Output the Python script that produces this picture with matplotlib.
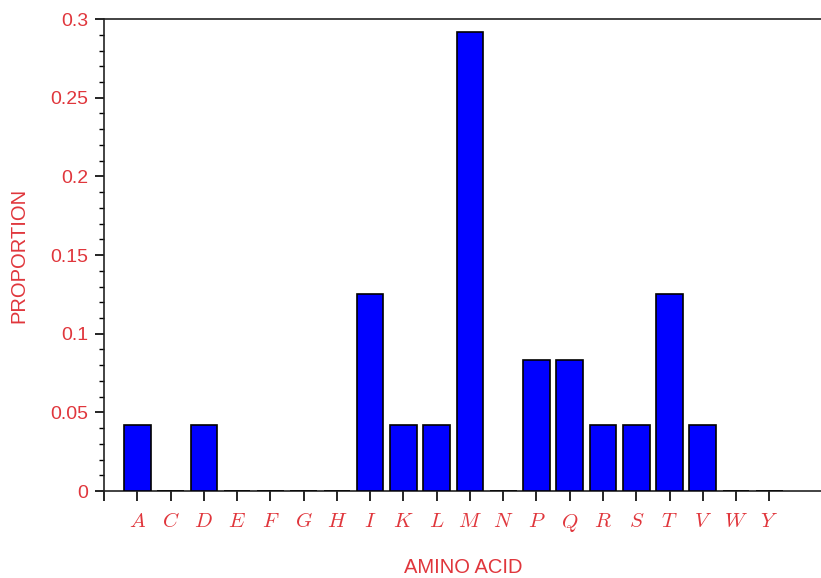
import numpy as np
import matplotlib
matplotlib.use("Agg")
import matplotlib.pyplot as plt
from matplotlib.ticker import MultipleLocator, FuncFormatter

amino_acids = ["A", "C", "D", "E", "F", "G", "H", "I", "K", "L",
               "M", "N", "P", "Q", "R", "S", "T", "V", "W", "Y"]
proportion = [0.0417, 0, 0.0417, 0, 0, 0, 0, 0.125, 0.0417, 0.0417,
              0.2917, 0, 0.0833, 0.0833, 0.0417, 0.0417, 0.125, 0.0417, 0, 0]

red = "#e0363c"
plt.rcParams["mathtext.fontset"] = "cm"
plt.rcParams["font.family"] = ["Liberation Sans", "DejaVu Sans"]

fig = plt.figure(figsize=(8.21, 5.78), dpi=100)
ax = fig.add_axes([0.1267, 0.1505, 0.8833, 0.8165])

x = np.arange(1, len(amino_acids) + 1)
ax.bar(x, proportion, width=0.8, color="#0000ff", edgecolor="black", linewidth=1.2, zorder=3)

ax.set_xlim(0, 21.8)
ax.set_ylim(0, 0.3)
ax.set_xticks(np.arange(0, len(amino_acids) + 1))
ax.set_xticklabels([""] + ["$%s$" % a for a in amino_acids], fontsize=15, color=red)
ax.yaxis.set_major_locator(MultipleLocator(0.05))
ax.yaxis.set_minor_locator(MultipleLocator(0.01))
ax.yaxis.set_major_formatter(FuncFormatter(lambda v, p: "%g" % round(v, 3)))
ax.tick_params(axis="y", which="major", length=6.5, width=1.2, labelsize=14, labelcolor=red, pad=5)
ax.tick_params(axis="y", which="minor", length=3.5, width=1.0)
ax.tick_params(axis="x", length=7, width=1.2, pad=8)

for s in ["left", "top", "bottom"]:
    ax.spines[s].set_linewidth(1.2)
    ax.spines[s].set_color("#222222")
ax.spines["right"].set_visible(False)

ax.set_xlabel("AMINO ACID", fontsize=14.5, color=red)
ax.set_ylabel("PROPORTION", fontsize=14.5, color=red)
ax.xaxis.set_label_coords(0.495, -0.143)
ax.yaxis.set_label_coords(-0.104, 0.5)

fig.savefig("out.png", dpi=100)
